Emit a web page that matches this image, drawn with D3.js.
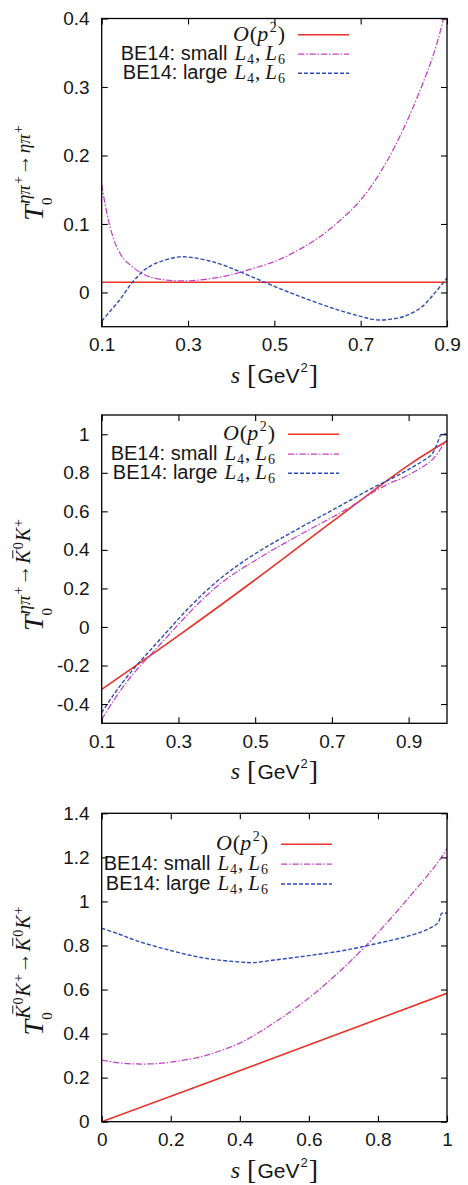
<!DOCTYPE html>
<html>
<head>
<meta charset="utf-8">
<script src="https://cdn.jsdelivr.net/npm/d3@7"></script>
<style>
  html, body { margin: 0; padding: 0; background: #fff; }
  svg { display: block; }
</style>
</head>
<body>
<svg id="chart" width="468" height="1185"></svg>
<script>
// ---------- data: ηπ+ → ηπ+ ----------
const p1LoS = [0.1, 0.5, 0.9];
const p1LoT = [0.015, 0.015, 0.015];
const p1SmallS = [0.10, 0.11, 0.12, 0.135, 0.15, 0.17, 0.19, 0.21, 0.25, 0.30, 0.35, 0.40, 0.45, 0.50, 0.55, 0.60, 0.65, 0.70, 0.75, 0.80, 0.85, 0.875, 0.90];
const p1SmallT = [0.157, 0.122, 0.094, 0.066, 0.050, 0.038, 0.029, 0.023, 0.018, 0.017, 0.020, 0.026, 0.035, 0.045, 0.060, 0.079, 0.104, 0.135, 0.180, 0.240, 0.315, 0.360, 0.420];
const p1LargeS = [0.10, 0.12, 0.135, 0.15, 0.166, 0.18, 0.197, 0.22, 0.25, 0.28, 0.31, 0.35, 0.39, 0.44, 0.50, 0.56, 0.64, 0.70, 0.735, 0.77, 0.80, 0.84, 0.87, 0.90];
const p1LargeT = [-0.042, -0.027, -0.016, -0.004, 0.011, 0.021, 0.032, 0.041, 0.048, 0.052, 0.051, 0.046, 0.038, 0.025, 0.009, -0.006, -0.024, -0.035, -0.040, -0.039, -0.035, -0.022, -0.002, 0.021];
const p1XTicks = [0.1, 0.3, 0.5, 0.7, 0.9];
const p1XTickLabels = ["0.1", "0.3", "0.5", "0.7", "0.9"];
const p1YTicks = [0, 0.1, 0.2, 0.3, 0.4];
const p1YTickLabels = ["0", "0.1", "0.2", "0.3", "0.4"];

// ---------- data: ηπ+ → K̄0K+ ----------
const p2LoS = [0.1, 0.3, 0.5, 0.7, 0.9, 1.0];
const p2LoT = [-0.324, -0.045, 0.245, 0.545, 0.84, 0.965];
const p2SmallS = [0.10, 0.13, 0.16, 0.19, 0.22, 0.25, 0.28, 0.31, 0.35, 0.40, 0.45, 0.50, 0.55, 0.60, 0.65, 0.70, 0.75, 0.80, 0.85, 0.88, 0.91, 0.94, 0.96, 0.975, 0.99, 1.00];
const p2SmallT = [-0.48, -0.385, -0.30, -0.225, -0.16, -0.095, -0.03, 0.035, 0.118, 0.21, 0.283, 0.345, 0.405, 0.46, 0.515, 0.568, 0.625, 0.69, 0.745, 0.77, 0.80, 0.835, 0.865, 0.90, 0.945, 0.97];
const p2LargeS = [0.10, 0.13, 0.16, 0.19, 0.22, 0.25, 0.28, 0.31, 0.35, 0.40, 0.45, 0.50, 0.55, 0.60, 0.65, 0.70, 0.75, 0.80, 0.85, 0.88, 0.91, 0.94, 0.96, 0.97, 0.978, 0.985, 1.00];
const p2LargeT = [-0.445, -0.355, -0.274, -0.202, -0.135, -0.069, -0.003, 0.063, 0.145, 0.236, 0.313, 0.38, 0.44, 0.496, 0.551, 0.605, 0.66, 0.715, 0.765, 0.795, 0.83, 0.865, 0.895, 0.93, 0.97, 1.0, 1.0];
const p2XTicks = [0.1, 0.3, 0.5, 0.7, 0.9];
const p2XTickLabels = ["0.1", "0.3", "0.5", "0.7", "0.9"];
const p2YTicks = [-0.4, -0.2, 0, 0.2, 0.4, 0.6, 0.8, 1];
const p2YTickLabels = ["-0.4", "-0.2", "0", "0.2", "0.4", "0.6", "0.8", "1"];

// ---------- data: K̄0K+ → K̄0K+ ----------
const p3LoS = [0, 0.5, 1];
const p3LoT = [0, 0.29, 0.583];
const p3SmallS = [0, 0.05, 0.1, 0.15, 0.2, 0.3, 0.4, 0.45, 0.5, 0.55, 0.6, 0.65, 0.7, 0.75, 0.8, 0.85, 0.9, 0.95, 0.975, 1.0];
const p3SmallT = [0.28, 0.267, 0.262, 0.263, 0.27, 0.30, 0.357, 0.40, 0.45, 0.503, 0.562, 0.627, 0.698, 0.775, 0.858, 0.946, 1.037, 1.13, 1.18, 1.24];
const p3LargeS = [0, 0.05, 0.1, 0.2, 0.3, 0.4, 0.44, 0.5, 0.6, 0.7, 0.8, 0.9, 0.95, 0.975, 0.985, 1.0];
const p3LargeT = [0.878, 0.852, 0.822, 0.777, 0.742, 0.725, 0.722, 0.734, 0.754, 0.777, 0.81, 0.848, 0.878, 0.905, 0.946, 0.946];
const p3XTicks = [0, 0.2, 0.4, 0.6, 0.8, 1];
const p3XTickLabels = ["0", "0.2", "0.4", "0.6", "0.8", "1"];
const p3YTicks = [0, 0.2, 0.4, 0.6, 0.8, 1, 1.2, 1.4];
const p3YTickLabels = ["0", "0.2", "0.4", "0.6", "0.8", "1", "1.2", "1.4"];

// ---------- styles ----------
const SERIF = "'Liberation Serif', 'DejaVu Serif', serif";
const SANS = "'Liberation Sans', Arial, sans-serif";
const INK = "#161616";
const STYLES = {
  lo:    { color: "#e8332a", width: 1.6, dash: null },
  small: { color: "#c43fc8", width: 1.25, dash: "6.3,1.8,1.4,2" },
  large: { color: "#2d4bb6", width: 1.4, dash: "4,2" }
};

// Lay out a run of math-like pieces side by side; returns the group and its advance width.
function mathRun(parent, items) {
  const g = parent.append("g");
  let cx = 0;
  for (const it of items) {
    const x = cx + (it.dx || 0);
    const y = it.dy || 0;
    const t = g.append("text")
      .attr("x", x).attr("y", y)
      .attr("font-family", it.sans ? SANS : SERIF)
      .attr("font-style", it.it ? "italic" : "normal")
      .attr("font-size", it.fs)
      .attr("fill", INK)
      .text(it.t);
    const w = t.node().getComputedTextLength();
    if (it.bar) {
      const by = y - it.fs * 0.86;
      g.append("line")
        .attr("x1", x + w * 0.38).attr("x2", x + w * 1.0)
        .attr("y1", by).attr("y2", by)
        .attr("stroke", INK).attr("stroke-width", Math.max(0.8, it.fs * 0.05));
    }
    if (!it.stay) cx = x + w;
  }
  return { g, width: cx };
}

const L = (txt) => [
  { t: txt, fs: 20, sans: true },
  { t: "L", fs: 21, it: true, dx: 7 },
  { t: "4", fs: 14, dy: 4, dx: 1 },
  { t: ",", fs: 21, dx: 1 },
  { t: "L", fs: 21, it: true, dx: 5 },
  { t: "6", fs: 14, dy: 4, dx: 1 }
];
const legendItems = [
  [{ t: "O", fs: 22, it: true }, { t: "(", fs: 22, dx: 1 }, { t: "p", fs: 22, it: true },
   { t: "2", fs: 14, dy: -9, dx: 1.5 }, { t: ")", fs: 22, dx: 1 }],
  L("BE14: small"),
  L("BE14: large")
];
const legendNames = ["lo", "small", "large"];

// pieces for y-axis titles
const Tbase = [{ t: "T", fs: 28, it: true }, { t: "0", fs: 15, dy: 9, dx: 0, stay: true }];
const SUP = -13, SUP2 = -20;
const eta = (dx) => ({ t: "ηπ", fs: 19, it: true, dy: SUP, dx: dx || 1 });
const plus = { t: "+", fs: 14, dy: SUP2, dx: 1 };
const arrow = { t: "→", fs: 21, dy: SUP - 1, dx: 1 };
const kbar = (dx) => [{ t: "K", fs: 20, it: true, dy: SUP, dx: dx || 1, bar: true }, { t: "0", fs: 14, dy: SUP2, dx: 1 }];
const kplus = [{ t: "K", fs: 20, it: true, dy: SUP, dx: 1 }, { t: "+", fs: 14, dy: SUP2, dx: 1 }];

const yTitle1 = [...Tbase, eta(1), plus, arrow, eta(1), plus];
const yTitle2 = [...Tbase, eta(1), plus, arrow, ...kbar(1), ...kplus];
const yTitle3 = [...Tbase, ...kbar(1), ...kplus, arrow, ...kbar(1), ...kplus];

const panels = [
  { top: 18.5, bottom: 326.7, xDomain: [0.1, 0.9], yDomain: [-0.05, 0.4],
    xTicks: p1XTicks, xLabels: p1XTickLabels, yTicks: p1YTicks, yLabels: p1YTickLabels,
    series: { lo: [p1LoS, p1LoT], small: [p1SmallS, p1SmallT], large: [p1LargeS, p1LargeT] },
    legend: { x0: 298, x1: 349, rows: [34.7, 54, 73.3] },
    yTitle: yTitle1, yTitleCenter: 173 },
  { top: 415, bottom: 723.3, xDomain: [0.1, 1.0], yDomain: [-0.5, 1.1],
    xTicks: p2XTicks, xLabels: p2XTickLabels, yTicks: p2YTicks, yLabels: p2YTickLabels,
    series: { lo: [p2LoS, p2LoT], small: [p2SmallS, p2SmallT], large: [p2LargeS, p2LargeT] },
    legend: { x0: 288, x1: 339, rows: [434.3, 454, 473.3] },
    yTitle: yTitle2, yTitleCenter: 575 },
  { top: 813.3, bottom: 1121.7, xDomain: [0, 1], yDomain: [0, 1.4],
    xTicks: p3XTicks, xLabels: p3XTickLabels, yTicks: p3YTicks, yLabels: p3YTickLabels,
    series: { lo: [p3LoS, p3LoT], small: [p3SmallS, p3SmallT], large: [p3LargeS, p3LargeT] },
    legend: { x0: 281, x1: 332, rows: [844.3, 864, 884] },
    yTitle: yTitle3, yTitleCenter: 971 }
];

const svg = d3.select("#chart");
const LEFT = 101.7, RIGHT = 447;

panels.forEach((p, i) => {
  const x = d3.scaleLinear().domain(p.xDomain).range([LEFT, RIGHT]);
  const y = d3.scaleLinear().domain(p.yDomain).range([p.bottom, p.top]);
  const g = svg.append("g");

  const clipId = "clip" + i;
  svg.append("clipPath").attr("id", clipId)
    .append("rect").attr("x", LEFT).attr("y", p.top)
    .attr("width", RIGHT - LEFT).attr("height", p.bottom - p.top);

  // curves
  const line = d3.line().x(d => x(d[0])).y(d => y(d[1])).curve(d3.curveCatmullRom.alpha(0.5));
  const curves = g.append("g").attr("clip-path", `url(#${clipId})`);
  ["lo", "small", "large"].forEach(name => {
    const [s, v] = p.series[name];
    const st = STYLES[name];
    curves.append("path")
      .datum(s.map((d, k) => [d, v[k]]))
      .attr("d", line)
      .attr("fill", "none")
      .attr("stroke", st.color)
      .attr("stroke-width", st.width)
      .attr("stroke-dasharray", st.dash);
  });

  // axes with inward ticks
  const styleAxis = sel => {
    sel.select(".domain").remove();
    sel.selectAll(".tick line").attr("stroke", "#000").attr("stroke-width", 1.1);
    sel.selectAll(".tick text").attr("fill", INK).attr("font-family", SANS).attr("font-size", 19);
  };
  g.append("g").attr("transform", `translate(0,${p.bottom})`)
    .call(d3.axisBottom(x).tickValues(p.xTicks).tickFormat((d, k) => p.xLabels[k]).tickSize(-6).tickPadding(11))
    .call(styleAxis);
  g.append("g").attr("transform", `translate(0,${p.top})`)
    .call(d3.axisTop(x).tickValues(p.xTicks).tickFormat("").tickSize(-6))
    .call(styleAxis);
  g.append("g").attr("transform", `translate(${LEFT},0)`)
    .call(d3.axisLeft(y).tickValues(p.yTicks).tickFormat((d, k) => p.yLabels[k]).tickSize(-6).tickPadding(12))
    .call(styleAxis);
  g.append("g").attr("transform", `translate(${RIGHT},0)`)
    .call(d3.axisRight(y).tickValues(p.yTicks).tickFormat("").tickSize(-6))
    .call(styleAxis);

  // frame
  g.append("rect").attr("x", LEFT).attr("y", p.top)
    .attr("width", RIGHT - LEFT).attr("height", p.bottom - p.top)
    .attr("fill", "none").attr("stroke", "#000").attr("stroke-width", 1.3);

  // legend
  legendNames.forEach((name, k) => {
    const ly = p.legend.rows[k];
    const st = STYLES[name];
    g.append("line").attr("x1", p.legend.x0).attr("x2", p.legend.x1)
      .attr("y1", ly).attr("y2", ly)
      .attr("stroke", st.color).attr("stroke-width", st.width)
      .attr("stroke-dasharray", st.dash);
    const holder = g.append("g");
    const r = mathRun(holder, legendItems[k]);
    holder.attr("transform", `translate(${p.legend.x0 - 13 - r.width},${ly + 6})`);
  });

  // x title: s [GeV^2]
  const xt = g.append("g");
  const xr = mathRun(xt, [
    { t: "s", fs: 24, it: true },
    { t: "[", fs: 28, dx: 7, dy: 1 },
    { t: "GeV", fs: 21, sans: true, dx: 1 },
    { t: "2", fs: 13, sans: true, dy: -11, dx: 1 },
    { t: "]", fs: 28, dx: 1, dy: 1 }
  ]);
  xt.attr("transform", `translate(${(LEFT + RIGHT) / 2 - xr.width / 2},${p.bottom + 56})`);

  // y title, rotated
  const yt = g.append("g");
  const yr = mathRun(yt, p.yTitle);
  yt.attr("transform", `translate(43,${p.yTitleCenter + yr.width / 2}) rotate(-90)`);
});
</script>
</body>
</html>
